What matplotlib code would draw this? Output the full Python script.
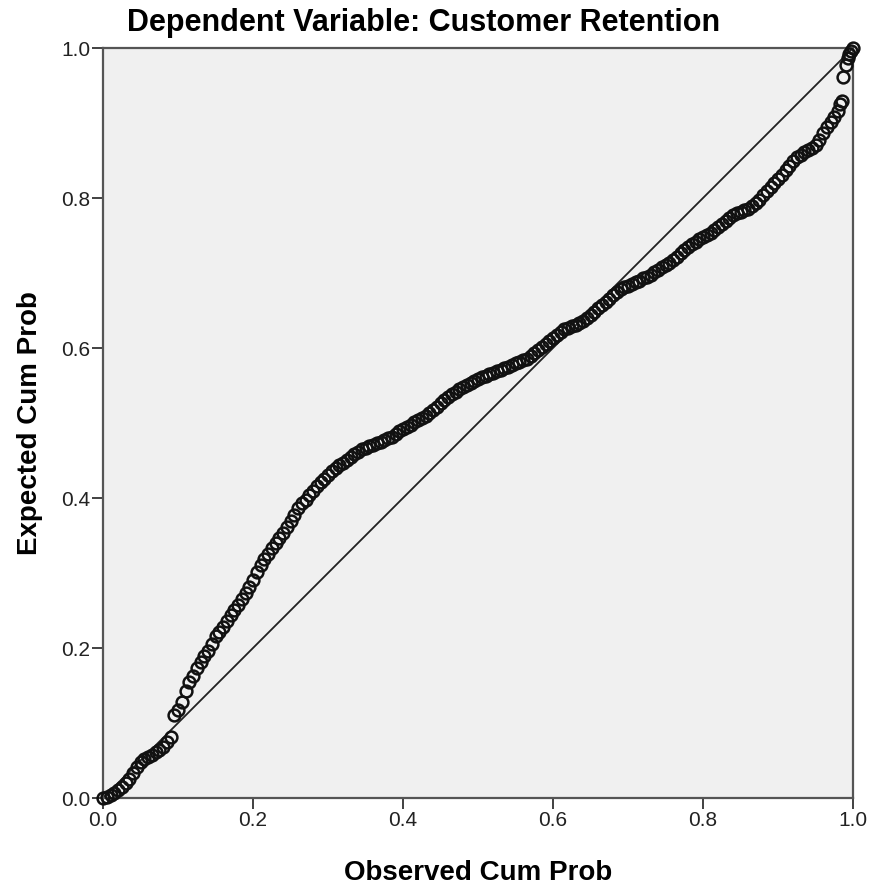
import matplotlib.pyplot as plt
import numpy as np

plt.rcParams['font.family'] = ['Liberation Sans', 'DejaVu Sans']

# Observed vs expected cumulative probability
observed = [
    0.000, 0.005, 0.010, 0.015, 0.020, 0.025, 0.030, 0.035, 0.040, 0.045,
    0.050, 0.055, 0.060, 0.065, 0.070, 0.075, 0.080, 0.085, 0.090, 0.095,
    0.100, 0.105, 0.110, 0.115, 0.120, 0.125, 0.130, 0.135, 0.140, 0.145,
    0.150, 0.155, 0.160, 0.165, 0.170, 0.175, 0.180, 0.185, 0.190, 0.195,
    0.200, 0.205, 0.210, 0.215, 0.220, 0.225, 0.230, 0.235, 0.240, 0.245,
    0.250, 0.255, 0.260, 0.265, 0.270, 0.275, 0.280, 0.285, 0.290, 0.295,
    0.300, 0.305, 0.310, 0.315, 0.320, 0.325, 0.330, 0.335, 0.340, 0.345,
    0.350, 0.355, 0.360, 0.365, 0.370, 0.375, 0.380, 0.385, 0.390, 0.395,
    0.400, 0.405, 0.410, 0.415, 0.420, 0.425, 0.430, 0.435, 0.440, 0.445,
    0.450, 0.455, 0.460, 0.465, 0.470, 0.475, 0.480, 0.485, 0.490, 0.495,
    0.500, 0.505, 0.510, 0.515, 0.520, 0.525, 0.530, 0.535, 0.540, 0.545,
    0.550, 0.555, 0.560, 0.565, 0.570, 0.575, 0.580, 0.585, 0.590, 0.595,
    0.600, 0.605, 0.610, 0.615, 0.620, 0.625, 0.630, 0.635, 0.640, 0.645,
    0.650, 0.655, 0.660, 0.665, 0.670, 0.675, 0.680, 0.685, 0.690, 0.695,
    0.700, 0.705, 0.710, 0.715, 0.720, 0.725, 0.730, 0.735, 0.740, 0.745,
    0.750, 0.755, 0.760, 0.765, 0.770, 0.775, 0.780, 0.785, 0.790, 0.795,
    0.800, 0.805, 0.810, 0.815, 0.820, 0.825, 0.830, 0.835, 0.840, 0.845,
    0.850, 0.855, 0.860, 0.865, 0.870, 0.875, 0.880, 0.885, 0.890, 0.895,
    0.900, 0.905, 0.910, 0.915, 0.920, 0.925, 0.930, 0.935, 0.940, 0.945,
    0.950, 0.955, 0.960, 0.965, 0.970, 0.975, 0.980, 0.983, 0.985, 0.987,
    0.990, 0.993, 0.995, 0.997, 1.000,
]
expected = [
    0.000, 0.002, 0.004, 0.007, 0.011, 0.015, 0.020, 0.026, 0.033, 0.041,
    0.048, 0.052, 0.055, 0.058, 0.061, 0.064, 0.068, 0.075, 0.082, 0.111,
    0.118, 0.128, 0.143, 0.155, 0.163, 0.173, 0.182, 0.189, 0.196, 0.206,
    0.216, 0.222, 0.228, 0.236, 0.244, 0.251, 0.258, 0.265, 0.273, 0.282,
    0.291, 0.301, 0.311, 0.319, 0.326, 0.333, 0.340, 0.347, 0.353, 0.361,
    0.370, 0.378, 0.387, 0.393, 0.398, 0.404, 0.410, 0.416, 0.421, 0.426,
    0.431, 0.436, 0.440, 0.444, 0.447, 0.451, 0.455, 0.459, 0.462, 0.465,
    0.467, 0.469, 0.471, 0.473, 0.475, 0.477, 0.480, 0.482, 0.486, 0.489,
    0.492, 0.495, 0.498, 0.501, 0.504, 0.507, 0.510, 0.514, 0.517, 0.522,
    0.527, 0.531, 0.535, 0.539, 0.542, 0.545, 0.548, 0.551, 0.553, 0.556,
    0.558, 0.561, 0.563, 0.565, 0.567, 0.569, 0.571, 0.573, 0.575, 0.577,
    0.580, 0.582, 0.584, 0.586, 0.589, 0.593, 0.597, 0.601, 0.605, 0.609,
    0.613, 0.617, 0.621, 0.625, 0.627, 0.629, 0.631, 0.633, 0.636, 0.640,
    0.644, 0.648, 0.653, 0.657, 0.662, 0.666, 0.670, 0.675, 0.678, 0.681,
    0.683, 0.686, 0.688, 0.690, 0.693, 0.695, 0.698, 0.701, 0.704, 0.708,
    0.711, 0.714, 0.717, 0.722, 0.727, 0.731, 0.735, 0.739, 0.742, 0.745,
    0.748, 0.751, 0.754, 0.758, 0.762, 0.766, 0.770, 0.774, 0.777, 0.780,
    0.782, 0.784, 0.786, 0.789, 0.793, 0.798, 0.804, 0.810, 0.815, 0.820,
    0.826, 0.831, 0.837, 0.843, 0.849, 0.855, 0.858, 0.861, 0.864, 0.867,
    0.871, 0.878, 0.887, 0.895, 0.901, 0.908, 0.916, 0.925, 0.930, 0.961,
    0.977, 0.987, 0.992, 0.996, 1.000,
]
ticks = [0.0, 0.2, 0.4, 0.6, 0.8, 1.0]
tick_labels = ['0.0', '0.2', '0.4', '0.6', '0.8', '1.0']

fig = plt.figure(figsize=(8.73, 8.85), dpi=100)
ax = fig.add_axes([103 / 873, 87 / 885, 750 / 873, 750 / 885])
ax.set_facecolor('#f0f0f0')

# reference diagonal
ax.plot([0, 1], [0, 1], color='#222222', linewidth=1.3, zorder=2)

ax.plot(observed, expected, linestyle='none', marker='o', markersize=8.5,
        markerfacecolor='none', markeredgecolor='#111111', markeredgewidth=1.8,
        zorder=3, clip_on=False)

ax.set_xlim(0, 1)
ax.set_ylim(0, 1)
ax.set_xticks(ticks)
ax.set_xticklabels(tick_labels)
ax.set_yticks(ticks)
ax.set_yticklabels(tick_labels)
ax.tick_params(direction='out', length=8, width=1.3, color='#333333',
               labelsize=15, labelcolor='#222222', pad=1)

for side in ['left', 'bottom', 'top', 'right']:
    ax.spines[side].set_color('#555555')
    ax.spines[side].set_linewidth(1.6)

ax.set_xlabel('Observed Cum Prob', fontsize=20, fontweight='bold', labelpad=22)
ax.set_ylabel('Expected Cum Prob', fontsize=20, fontweight='bold', labelpad=13)

fig.text(424 / 873, 1 - 23 / 885, 'Dependent Variable: Customer Retention',
         fontsize=22, fontweight='bold', ha='center', va='center')

plt.savefig('out.png', dpi=100)
